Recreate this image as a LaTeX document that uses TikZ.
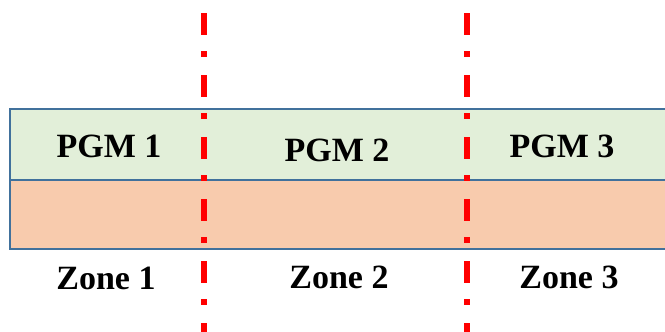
\documentclass[tikz,border=0pt]{standalone}
\usepackage{fontspec}
\setmainfont{Liberation Serif}
\definecolor{pgmgreen}{HTML}{E2EFD9}
\definecolor{zoneorange}{HTML}{F8CBAD}
\definecolor{edgeblue}{HTML}{41719C}
\definecolor{cutred}{HTML}{FF0000}
\begin{document}
\begin{tikzpicture}[x=1pt,y=-1pt,
  band/.style={draw=edgeblue,line width=1.6pt},
  lbl/.style={font=\bfseries\fontsize{34}{34}\selectfont,inner sep=0pt,anchor=base},
  cutline/.style={draw=cutred,line width=5.5pt,dash pattern=on 22pt off 16pt on 6pt off 18pt}]
\useasboundingbox (0,0) rectangle (665,332);
\fill[pgmgreen] (10,109) rectangle (672,180);
\fill[zoneorange] (10,180) rectangle (672,249);
\draw[band] (672,109) -- (10,109) -- (10,249) -- (672,249);
\draw[band] (10,180) -- (672,180);
\coordinate (c1t) at (204,13);
\coordinate (c1b) at (204,335);
\coordinate (c2t) at (467,13);
\coordinate (c2b) at (467,335);
\draw[cutline] (c1t) -- (c1b);
\draw[cutline] (c2t) -- (c2b);
\node[lbl] (p1) at (109,157) {PGM 1};
\node[lbl] (p2) at (337,161) {PGM 2};
\node[lbl] (p3) at (562,157) {PGM 3};
\node[lbl] (z1) at (106,289) {Zone 1};
\node[lbl] (z2) at (339,288) {Zone 2};
\node[lbl] (z3) at (569,288) {Zone 3};
\end{tikzpicture}
\end{document}
